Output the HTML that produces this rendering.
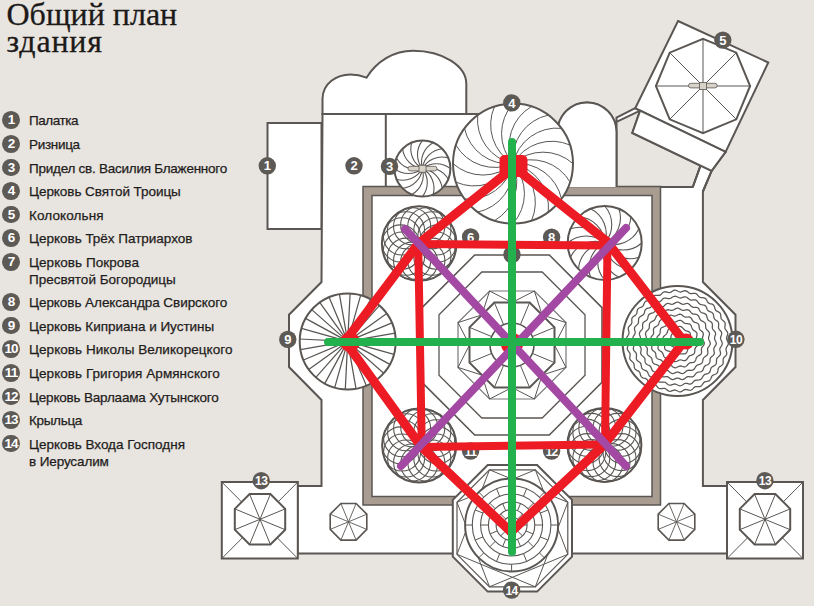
<!DOCTYPE html>
<html><head><meta charset="utf-8"><style>
html,body{margin:0;padding:0;}
body{width:814px;height:606px;overflow:hidden;background:#e8e4df;position:relative;font-family:"Liberation Sans",sans-serif;}
svg{position:absolute;left:0;top:0;}
.title{position:absolute;left:6.5px;top:1px;font-family:"Liberation Serif",serif;font-size:32px;line-height:27px;color:#1c1a19;-webkit-text-stroke:0.3px #1c1a19;}
.b{position:absolute;left:2.2px;width:17.8px;height:17.8px;border-radius:50%;background:#5d5955;color:#fff;font-size:13.5px;font-weight:bold;line-height:18px;text-align:center;letter-spacing:-0.8px;}
.t{position:absolute;left:29px;font-size:13.5px;line-height:17px;color:#1f1d1c;white-space:nowrap;-webkit-text-stroke:0.25px #1f1d1c;letter-spacing:0.2px;}
</style></head><body>
<svg width="814" height="606" viewBox="0 0 814 606" font-family="Liberation Sans, sans-serif">
<rect x="267.5" y="123" width="54" height="106" fill="#fff" stroke="#5a5653" stroke-width="2"/>
<path d="M322.5,114L322.5,99C322.5,83 337,74.4 350.4,74.4C357,74.4 362,75.8 366.5,77.7C377,61 394,50.8 413,50.8C443,50.8 466.3,66 466.3,84L466.3,114Z" fill="#fff" stroke="#5a5653" stroke-width="2"/>
<polygon points="322.5,114 500,114 500,160 557.5,160 557.5,132 557.5,132 557.9,126.9 559.3,121.9 561.5,117.2 564.4,113 568,109.4 572.2,106.5 576.9,104.3 581.9,102.9 587,102.5 592.1,102.9 597.1,104.3 601.8,106.5 606,109.4 609.6,113 612.5,117.2 614.7,121.9 616.1,126.9 616.5,132 616.5,117.7 635.2,108.2 725.6,151.9 711.6,170.9 702.9,191.5 702.9,282 735.5,314.7 735.5,367 702.9,400 702.9,486 727,486 727,553.5 571,553.5 453,553.5 297.5,553.5 297.5,486 321.5,486 321.5,400 289,367 289,314.7 321.5,282" fill="#fff" stroke="#5a5653" stroke-width="2" stroke-linejoin="miter"/>
<path d="M322.5,114L480,114M385.8,114L385.8,187" stroke="#5a5653" stroke-width="2" fill="none"/>
<polygon points="616.5,121.8 640.1,110.6 632.3,133 700.5,165.6 692.8,187 616.5,187" fill="#e8e4df" stroke="#5a5653" stroke-width="2"/>
<polygon points="678,21 768.3,62.5 725.6,151.9 635.2,108.2" fill="#fff" stroke="#5a5653" stroke-width="2"/>
<polygon points="640.1,110.6 725.6,151.9 711.6,170.9 632.3,133" fill="#fff" stroke="#5a5653" stroke-width="2"/>
<path d="M700.5,165.6L692.8,187M711.6,170.9L702.9,191.5" stroke="#5a5653" stroke-width="2" fill="none"/>
<polygon points="750.1,86 736.3,119.3 703,133.1 669.7,119.3 655.9,86 669.7,52.7 703,38.9 736.3,52.7" fill="#fff" stroke="#5a5653" stroke-width="2"/>
<path d="M703,86L750.1,86M703,86L736.3,119.3M703,86L703,133.1M703,86L669.7,119.3M703,86L655.9,86M703,86L669.7,52.7M703,86L703,38.9M703,86L736.3,52.7" stroke="#5a5653" stroke-width="1" fill="none"/>
<rect x="688.5" y="83.3" width="28.7" height="4.6" rx="2.3" fill="#d9d2c8" stroke="#5a5653" stroke-width="0.8"/>
<rect x="699.5" y="82.5" width="7" height="7" fill="#d9d2c8" stroke="#5a5653" stroke-width="0.8"/>
<rect x="363" y="186.5" width="297.5" height="318.5" fill="#a99c90" stroke="#5a5653" stroke-width="1.5"/>
<rect x="372" y="195.5" width="280" height="301" fill="#fff" stroke="#5a5653" stroke-width="1.5"/>
<polygon points="602,382.3 549.3,435 474.7,435 422,382.3 422,307.7 474.7,255 549.3,255 602,307.7" fill="none" stroke="#5a5653" stroke-width="1.6"/>
<polygon points="585,375.2 542.2,418 481.8,418 439,375.2 439,314.8 481.8,272 542.2,272 585,314.8" fill="none" stroke="#5a5653" stroke-width="1.3"/>
<polygon points="566,367.4 534.4,399 489.6,399 458,367.4 458,322.6 489.6,291 534.4,291 566,322.6" fill="none" stroke="#777" stroke-width="1.2"/>
<polygon points="554.5,362.6 529.6,387.5 494.4,387.5 469.5,362.6 469.5,327.4 494.4,302.5 529.6,302.5 554.5,327.4" fill="none" stroke="#5a5653" stroke-width="2"/>
<path d="M554.5,345L566,367.4L542.1,375.1M554.5,362.6L532.3,353.4M542.1,375.1L534.4,399L512,387.5M529.6,387.5L520.4,365.3M512,387.5L489.6,399L481.9,375.1M494.4,387.5L503.6,365.3M481.9,375.1L458,367.4L469.5,345M469.5,362.6L491.7,353.4M469.5,345L458,322.6L481.9,314.9M469.5,327.4L491.7,336.6M481.9,314.9L489.6,291L512,302.5M494.4,302.5L503.6,324.7M512,302.5L534.4,291L542.1,314.9M529.6,302.5L520.4,324.7M542.1,314.9L566,322.6L554.5,345M554.5,327.4L532.3,336.6" fill="none" stroke="#5a5653" stroke-width="1"/>
<circle cx="512" cy="345" r="22" fill="#fff" stroke="#5a5653" stroke-width="1.6"/>
<path d="M557.5,187L557.5,132A29.5,29.5 0 0 1 616.5,132L616.5,187" fill="#fff" stroke="#5a5653" stroke-width="2"/>
<circle cx="422.4" cy="168.6" r="28" fill="#fff" stroke="#5a5653" stroke-width="2"/>
<path d="M422.4,168.6A22.4,22.4 0 0 1 450.4,168.6M422.4,168.6A22.4,22.4 0 0 1 448.3,179.3M422.4,168.6A22.4,22.4 0 0 1 442.2,188.4M422.4,168.6A22.4,22.4 0 0 1 433.1,194.5M422.4,168.6A22.4,22.4 0 0 1 422.4,196.6M422.4,168.6A22.4,22.4 0 0 1 411.7,194.5M422.4,168.6A22.4,22.4 0 0 1 402.6,188.4M422.4,168.6A22.4,22.4 0 0 1 396.5,179.3M422.4,168.6A22.4,22.4 0 0 1 394.4,168.6M422.4,168.6A22.4,22.4 0 0 1 396.5,157.9M422.4,168.6A22.4,22.4 0 0 1 402.6,148.8M422.4,168.6A22.4,22.4 0 0 1 411.7,142.7M422.4,168.6A22.4,22.4 0 0 1 422.4,140.6M422.4,168.6A22.4,22.4 0 0 1 433.1,142.7M422.4,168.6A22.4,22.4 0 0 1 442.2,148.8M422.4,168.6A22.4,22.4 0 0 1 448.3,157.9" fill="none" stroke="#5a5653" stroke-width="1.1"/>
<rect x="408" y="166.3" width="29" height="4.6" rx="2.3" fill="#d9d2c8" stroke="#5a5653" stroke-width="0.8"/>
<rect x="419" y="165.2" width="7" height="7" fill="#d9d2c8" stroke="#5a5653" stroke-width="0.8"/>
<circle cx="513" cy="163.6" r="60" fill="#fff" stroke="#5a5653" stroke-width="2"/>
<path d="M513,163.6A45,45 0 0 1 573,163.6M513,163.6A45,45 0 0 1 570.1,182.1M513,163.6A45,45 0 0 1 561.5,198.9M513,163.6A45,45 0 0 1 548.3,212.1M513,163.6A45,45 0 0 1 531.5,220.7M513,163.6A45,45 0 0 1 513,223.6M513,163.6A45,45 0 0 1 494.5,220.7M513,163.6A45,45 0 0 1 477.7,212.1M513,163.6A45,45 0 0 1 464.5,198.9M513,163.6A45,45 0 0 1 455.9,182.1M513,163.6A45,45 0 0 1 453,163.6M513,163.6A45,45 0 0 1 455.9,145.1M513,163.6A45,45 0 0 1 464.5,128.3M513,163.6A45,45 0 0 1 477.7,115.1M513,163.6A45,45 0 0 1 494.5,106.5M513,163.6A45,45 0 0 1 513,103.6M513,163.6A45,45 0 0 1 531.5,106.5M513,163.6A45,45 0 0 1 548.3,115.1M513,163.6A45,45 0 0 1 561.5,128.3M513,163.6A45,45 0 0 1 570.1,145.1" fill="none" stroke="#5a5653" stroke-width="1.0"/>
<circle cx="419.2" cy="243.5" r="37.3" fill="#fff" stroke="#5a5653" stroke-width="2"/>
<g fill="none" stroke="#5a5653" stroke-width="1.1"><circle cx="437.8" cy="243.5" r="18.6"/><circle cx="436.4" cy="250.6" r="18.6"/><circle cx="432.4" cy="256.7" r="18.6"/><circle cx="426.3" cy="260.7" r="18.6"/><circle cx="419.2" cy="262.1" r="18.6"/><circle cx="412.1" cy="260.7" r="18.6"/><circle cx="406" cy="256.7" r="18.6"/><circle cx="402" cy="250.6" r="18.6"/><circle cx="400.6" cy="243.5" r="18.6"/><circle cx="402" cy="236.4" r="18.6"/><circle cx="406" cy="230.3" r="18.6"/><circle cx="412.1" cy="226.3" r="18.6"/><circle cx="419.2" cy="224.8" r="18.6"/><circle cx="426.3" cy="226.3" r="18.6"/><circle cx="432.4" cy="230.3" r="18.6"/><circle cx="436.4" cy="236.4" r="18.6"/></g>
<circle cx="604.7" cy="243" r="37" fill="#fff" stroke="#5a5653" stroke-width="2"/>
<path d="M604.7,243A27.8,27.8 0 0 0 641.7,243M604.7,243A27.8,27.8 0 0 0 638.9,257.2M604.7,243A27.8,27.8 0 0 0 630.9,269.2M604.7,243A27.8,27.8 0 0 0 618.9,277.2M604.7,243A27.8,27.8 0 0 0 604.7,280M604.7,243A27.8,27.8 0 0 0 590.5,277.2M604.7,243A27.8,27.8 0 0 0 578.5,269.2M604.7,243A27.8,27.8 0 0 0 570.5,257.2M604.7,243A27.8,27.8 0 0 0 567.7,243M604.7,243A27.8,27.8 0 0 0 570.5,228.8M604.7,243A27.8,27.8 0 0 0 578.5,216.8M604.7,243A27.8,27.8 0 0 0 590.5,208.8M604.7,243A27.8,27.8 0 0 0 604.7,206M604.7,243A27.8,27.8 0 0 0 618.9,208.8M604.7,243A27.8,27.8 0 0 0 630.9,216.8M604.7,243A27.8,27.8 0 0 0 638.9,228.8" fill="none" stroke="#5a5653" stroke-width="1.1"/>
<circle cx="419.2" cy="445.4" r="37" fill="#fff" stroke="#5a5653" stroke-width="2"/>
<g fill="none" stroke="#5a5653" stroke-width="1.1"><circle cx="437.7" cy="445.4" r="18.5"/><circle cx="436.3" cy="452.5" r="18.5"/><circle cx="432.3" cy="458.5" r="18.5"/><circle cx="426.3" cy="462.5" r="18.5"/><circle cx="419.2" cy="463.9" r="18.5"/><circle cx="412.1" cy="462.5" r="18.5"/><circle cx="406.1" cy="458.5" r="18.5"/><circle cx="402.1" cy="452.5" r="18.5"/><circle cx="400.7" cy="445.4" r="18.5"/><circle cx="402.1" cy="438.3" r="18.5"/><circle cx="406.1" cy="432.3" r="18.5"/><circle cx="412.1" cy="428.3" r="18.5"/><circle cx="419.2" cy="426.9" r="18.5"/><circle cx="426.3" cy="428.3" r="18.5"/><circle cx="432.3" cy="432.3" r="18.5"/><circle cx="436.3" cy="438.3" r="18.5"/></g>
<circle cx="604.4" cy="445" r="37" fill="#fff" stroke="#5a5653" stroke-width="2"/>
<g fill="none" stroke="#5a5653" stroke-width="1.1"><circle cx="622.9" cy="445" r="18.5"/><circle cx="621.5" cy="452.1" r="18.5"/><circle cx="617.5" cy="458.1" r="18.5"/><circle cx="611.5" cy="462.1" r="18.5"/><circle cx="604.4" cy="463.5" r="18.5"/><circle cx="597.3" cy="462.1" r="18.5"/><circle cx="591.3" cy="458.1" r="18.5"/><circle cx="587.3" cy="452.1" r="18.5"/><circle cx="585.9" cy="445" r="18.5"/><circle cx="587.3" cy="437.9" r="18.5"/><circle cx="591.3" cy="431.9" r="18.5"/><circle cx="597.3" cy="427.9" r="18.5"/><circle cx="604.4" cy="426.5" r="18.5"/><circle cx="611.5" cy="427.9" r="18.5"/><circle cx="617.5" cy="431.9" r="18.5"/><circle cx="621.5" cy="437.9" r="18.5"/></g>
<circle cx="347.7" cy="341.4" r="48" fill="#fff" stroke="#5a5653" stroke-width="2"/>
<path d="M347.7,341.4L395.6,343.8M347.7,341.4L393.9,354.4M347.7,341.4L389.9,364.4M347.7,341.4L383.7,373.2M347.7,341.4L375.7,380.4M347.7,341.4L366.3,385.6M347.7,341.4L356,388.7M347.7,341.4L345.3,389.3M347.7,341.4L334.7,387.6M347.7,341.4L324.7,383.6M347.7,341.4L315.9,377.4M347.7,341.4L308.7,369.4M347.7,341.4L303.5,360M347.7,341.4L300.4,349.7M347.7,341.4L299.8,339M347.7,341.4L301.5,328.4M347.7,341.4L305.5,318.4M347.7,341.4L311.7,309.6M347.7,341.4L319.7,302.4M347.7,341.4L329.1,297.2M347.7,341.4L339.4,294.1M347.7,341.4L350.1,293.5M347.7,341.4L360.7,295.2M347.7,341.4L370.7,299.2M347.7,341.4L379.5,305.4M347.7,341.4L386.7,313.4M347.7,341.4L391.9,322.8M347.7,341.4L395,333.1" stroke="#5a5653" stroke-width="1.25" fill="none"/>
<circle cx="677.5" cy="341" r="55" fill="#fff" stroke="#5a5653" stroke-width="2"/>
<path d="M685.5,341L686,342.1L686.1,343.2L685.7,344.3L685,345.1L684,345.7L682.9,346.1L682.1,346.5L681.3,347L680.7,347.8L680,348.6L679.1,349.4L678.1,349.8L676.9,349.8L675.9,349.4L675,348.6L674.3,347.8L673.7,347L672.9,346.5L672.1,346.1L671,345.7L670,345.1L669.3,344.3L668.9,343.2L669,342.1L669.5,341L670.1,340.1L670.6,339.2L670.9,338.4L671,337.4L671,336.3L671.3,335.2L671.9,334.2L672.8,333.5L673.9,333.3L675,333.4L676.1,333.7L677.1,333.9L677.9,333.9L678.9,333.7L680,333.4L681.1,333.3L682.2,333.5L683.1,334.2L683.7,335.2L684,336.3L684,337.4L684.1,338.4L684.4,339.2L684.9,340.1L685.5,341ZM691.5,341L692,342.1L692.2,343.3L691.9,344.5L691.3,345.5L690.4,346.4L689.5,347.1L688.7,347.9L688.1,348.7L687.7,349.7L687.4,350.9L686.9,352L686.2,353L685.3,353.7L684.1,353.9L682.9,353.9L681.7,353.8L680.6,353.8L679.6,354L678.6,354.4L677.5,355L676.4,355.5L675.2,355.7L674,355.4L673,354.8L672.1,353.9L671.4,353L670.6,352.2L669.8,351.6L668.8,351.2L667.6,350.9L666.5,350.4L665.5,349.7L664.8,348.8L664.6,347.6L664.6,346.4L664.7,345.2L664.7,344.1L664.5,343.1L664.1,342.1L663.5,341L663,339.9L662.8,338.7L663.1,337.5L663.7,336.5L664.6,335.6L665.5,334.9L666.3,334.1L666.9,333.3L667.3,332.3L667.6,331.1L668.1,330L668.8,329L669.7,328.3L670.9,328.1L672.1,328.1L673.3,328.2L674.4,328.2L675.4,328L676.4,327.6L677.5,327L678.6,326.5L679.8,326.3L681,326.6L682,327.2L682.9,328.1L683.6,329L684.4,329.8L685.2,330.4L686.2,330.8L687.4,331.1L688.5,331.6L689.5,332.3L690.2,333.2L690.4,334.4L690.4,335.6L690.3,336.8L690.3,337.9L690.5,338.9L690.9,339.9L691.5,341ZM697.5,341L698,342.1L698.2,343.2L698.1,344.3L697.6,345.3L696.8,346.2L696,347L695.4,347.9L695,348.8L694.8,349.8L694.8,351L694.7,352.2L694.4,353.3L693.7,354.1L692.8,354.7L691.6,355.1L690.5,355.5L689.5,355.9L688.8,356.5L688.1,357.3L687.5,358.3L686.8,359.3L686,360.1L685,360.5L683.8,360.5L682.7,360.3L681.5,360L680.5,359.9L679.5,360L678.5,360.4L677.5,361L676.4,361.5L675.3,361.7L674.2,361.6L673.2,361.1L672.3,360.3L671.5,359.5L670.6,358.9L669.7,358.5L668.7,358.3L667.5,358.3L666.3,358.2L665.2,357.9L664.4,357.2L663.8,356.3L663.4,355.1L663,354L662.6,353L662,352.3L661.2,351.6L660.2,351L659.2,350.3L658.4,349.5L658,348.5L658,347.3L658.2,346.2L658.5,345L658.6,344L658.5,343L658.1,342L657.5,341L657,339.9L656.8,338.8L656.9,337.7L657.4,336.7L658.2,335.8L659,335L659.6,334.1L660,333.2L660.2,332.2L660.2,331L660.3,329.8L660.6,328.7L661.3,327.9L662.2,327.3L663.4,326.9L664.5,326.5L665.5,326.1L666.2,325.5L666.9,324.7L667.5,323.7L668.2,322.7L669,321.9L670,321.5L671.2,321.5L672.3,321.7L673.5,322L674.5,322.1L675.5,322L676.5,321.6L677.5,321L678.6,320.5L679.7,320.3L680.8,320.4L681.8,320.9L682.7,321.7L683.5,322.5L684.4,323.1L685.3,323.5L686.3,323.7L687.5,323.7L688.7,323.8L689.8,324.1L690.6,324.8L691.2,325.7L691.6,326.9L692,328L692.4,329L693,329.7L693.8,330.4L694.8,331L695.8,331.7L696.6,332.5L697,333.5L697,334.7L696.8,335.8L696.5,337L696.4,338L696.5,339L696.9,340L697.5,341ZM703.5,341L704,342L704.3,343.1L704.2,344.2L703.7,345.2L703,346.1L702.3,346.9L701.7,347.8L701.4,348.8L701.4,349.8L701.5,350.9L701.6,352.1L701.4,353.2L700.9,354.1L700.1,354.9L699.1,355.4L698.1,356L697.2,356.6L696.6,357.3L696.2,358.3L695.9,359.4L695.5,360.5L694.9,361.4L694.1,362.1L693.1,362.5L691.9,362.6L690.8,362.7L689.8,362.9L688.9,363.4L688.2,364.1L687.4,365L686.7,365.9L685.8,366.5L684.8,366.8L683.7,366.8L682.6,366.5L681.5,366.2L680.5,366L679.5,366.1L678.5,366.5L677.5,367L676.5,367.5L675.4,367.8L674.3,367.7L673.3,367.2L672.4,366.5L671.6,365.8L670.7,365.2L669.7,364.9L668.7,364.9L667.6,365L666.4,365.1L665.3,364.9L664.4,364.4L663.6,363.6L663.1,362.6L662.5,361.6L661.9,360.7L661.2,360.1L660.2,359.7L659.1,359.4L658,359L657.1,358.4L656.4,357.6L656,356.6L655.9,355.4L655.8,354.3L655.6,353.3L655.1,352.4L654.4,351.7L653.5,350.9L652.6,350.2L652,349.3L651.7,348.3L651.7,347.2L652,346.1L652.3,345L652.5,344L652.4,343L652,342L651.5,341L651,340L650.7,338.9L650.8,337.8L651.3,336.8L652,335.9L652.7,335.1L653.3,334.2L653.6,333.2L653.6,332.2L653.5,331.1L653.4,329.9L653.6,328.8L654.1,327.9L654.9,327.1L655.9,326.6L656.9,326L657.8,325.4L658.4,324.7L658.8,323.7L659.1,322.6L659.5,321.5L660.1,320.6L660.9,319.9L661.9,319.5L663.1,319.4L664.2,319.3L665.2,319.1L666.1,318.6L666.8,317.9L667.6,317L668.3,316.1L669.2,315.5L670.2,315.2L671.3,315.2L672.4,315.5L673.5,315.8L674.5,316L675.5,315.9L676.5,315.5L677.5,315L678.5,314.5L679.6,314.2L680.7,314.3L681.7,314.8L682.6,315.5L683.4,316.2L684.3,316.8L685.3,317.1L686.3,317.1L687.4,317L688.6,316.9L689.7,317.1L690.6,317.6L691.4,318.4L691.9,319.4L692.5,320.4L693.1,321.3L693.8,321.9L694.8,322.3L695.9,322.6L697,323L697.9,323.6L698.6,324.4L699,325.4L699.1,326.6L699.2,327.7L699.4,328.7L699.9,329.6L700.6,330.3L701.5,331.1L702.4,331.8L703,332.7L703.3,333.7L703.3,334.8L703,335.9L702.7,337L702.5,338L702.6,339L703,340L703.5,341ZM709.5,341L710,342.1L710.3,343.2L710.2,344.3L709.7,345.3L709.1,346.3L708.4,347.2L707.8,348.1L707.6,349.1L707.6,350.2L707.8,351.4L707.9,352.6L707.8,353.7L707.4,354.7L706.6,355.5L705.6,356.2L704.7,356.9L703.9,357.6L703.3,358.5L703,359.5L702.8,360.7L702.5,361.8L702,362.9L701.3,363.6L700.3,364.2L699.2,364.5L698,364.8L697,365.3L696.2,365.9L695.6,366.8L695,367.8L694.4,368.8L693.6,369.6L692.7,370.2L691.5,370.3L690.4,370.3L689.2,370.2L688.1,370.3L687.1,370.6L686.2,371.2L685.4,372L684.4,372.8L683.4,373.3L682.4,373.5L681.3,373.3L680.1,372.9L679.1,372.4L678,372.1L677,372.1L675.9,372.4L674.9,372.9L673.7,373.3L672.6,373.5L671.6,373.3L670.6,372.8L669.6,372L668.8,371.2L667.9,370.6L666.9,370.3L665.8,370.2L664.6,370.3L663.5,370.3L662.3,370.2L661.4,369.6L660.6,368.8L660,367.8L659.4,366.8L658.8,365.9L658,365.3L657,364.8L655.8,364.5L654.7,364.2L653.7,363.6L653,362.9L652.5,361.8L652.2,360.7L652,359.5L651.7,358.5L651.1,357.6L650.3,356.9L649.4,356.2L648.4,355.5L647.6,354.7L647.2,353.7L647.1,352.6L647.2,351.4L647.4,350.2L647.4,349.1L647.2,348.1L646.6,347.2L645.9,346.3L645.3,345.3L644.8,344.3L644.7,343.2L645,342.1L645.5,341L646,340L646.4,338.9L646.5,337.9L646.3,336.8L645.9,335.7L645.6,334.6L645.5,333.5L645.8,332.4L646.4,331.5L647.2,330.6L648.1,329.8L648.8,329L649.2,328L649.3,326.9L649.4,325.8L649.4,324.6L649.7,323.5L650.3,322.6L651.2,321.9L652.2,321.3L653.3,320.9L654.2,320.3L654.9,319.5L655.4,318.6L655.8,317.5L656.3,316.4L656.9,315.4L657.8,314.7L658.8,314.4L660,314.2L661.2,314.1L662.2,313.9L663.1,313.4L663.9,312.6L664.6,311.7L665.4,310.8L666.3,310.1L667.3,309.8L668.5,309.7L669.6,310L670.8,310.3L671.9,310.4L672.9,310.2L673.9,309.7L674.9,309.1L675.9,308.5L677,308.1L678,308.1L679.1,308.5L680.1,309.1L681.1,309.7L682.1,310.2L683.1,310.4L684.2,310.3L685.4,310L686.5,309.7L687.7,309.8L688.7,310.1L689.6,310.8L690.4,311.7L691.1,312.6L691.9,313.4L692.8,313.9L693.8,314.1L695,314.2L696.2,314.4L697.2,314.7L698.1,315.4L698.7,316.4L699.2,317.5L699.6,318.6L700.1,319.5L700.8,320.3L701.7,320.9L702.8,321.3L703.8,321.9L704.7,322.6L705.3,323.5L705.6,324.6L705.6,325.8L705.7,326.9L705.8,328L706.2,329L706.9,329.8L707.8,330.6L708.6,331.5L709.2,332.4L709.5,333.5L709.4,334.6L709.1,335.7L708.7,336.8L708.5,337.9L708.6,338.9L709,340L709.5,341ZM715.5,341L716,342.1L716.3,343.1L716.2,344.2L715.8,345.2L715.1,346.2L714.5,347.1L714,348.1L713.8,349.1L713.8,350.1L714.1,351.3L714.3,352.4L714.3,353.5L713.9,354.5L713.2,355.4L712.4,356.1L711.4,356.9L710.7,357.6L710.2,358.5L710,359.6L710,360.7L709.9,361.9L709.5,363L708.9,363.8L708,364.5L707,365L705.9,365.4L705,366L704.3,366.7L703.8,367.7L703.4,368.8L703,369.9L702.4,370.8L701.6,371.5L700.6,371.9L699.4,372L698.3,372.2L697.2,372.5L696.4,373L695.6,373.8L695,374.7L694.3,375.7L693.5,376.4L692.5,376.8L691.4,376.9L690.2,376.8L689.1,376.6L688,376.6L687,376.9L686.1,377.5L685.2,378.2L684.3,378.9L683.3,379.4L682.3,379.6L681.2,379.4L680.1,378.9L679,378.4L678,378.1L677,378.1L676,378.4L674.9,378.9L673.8,379.4L672.7,379.6L671.7,379.4L670.7,378.9L669.8,378.2L668.9,377.5L668,376.9L667,376.6L665.9,376.6L664.8,376.8L663.6,376.9L662.5,376.8L661.5,376.4L660.7,375.7L660,374.7L659.4,373.8L658.6,373L657.8,372.5L656.7,372.2L655.6,372L654.4,371.9L653.4,371.5L652.6,370.8L652,369.9L651.6,368.8L651.2,367.7L650.7,366.7L650,366L649.1,365.4L648,365L647,364.5L646.1,363.8L645.5,363L645.1,361.9L645,360.7L645,359.6L644.8,358.5L644.3,357.6L643.6,356.9L642.6,356.1L641.8,355.4L641.1,354.5L640.7,353.5L640.7,352.4L640.9,351.3L641.2,350.1L641.2,349.1L641,348.1L640.5,347.1L639.9,346.2L639.2,345.2L638.8,344.2L638.7,343.1L639,342.1L639.5,341L640,340L640.4,339L640.5,338L640.3,336.9L639.9,335.8L639.5,334.7L639.4,333.6L639.6,332.6L640.1,331.6L640.9,330.7L641.7,329.9L642.3,329L642.7,328.1L642.7,327L642.6,325.9L642.6,324.7L642.8,323.6L643.2,322.7L644,321.9L645,321.3L646,320.7L646.9,320L647.4,319.2L647.8,318.2L648,317L648.3,315.9L648.7,314.9L649.5,314.1L650.4,313.6L651.6,313.2L652.7,312.9L653.7,312.5L654.5,311.9L655.1,311L655.6,310L656.1,308.9L656.9,308.1L657.8,307.5L658.8,307.3L660,307.3L661.2,307.3L662.2,307.1L663.2,306.7L664,306L664.8,305.2L665.6,304.4L666.5,303.7L667.5,303.4L668.6,303.5L669.8,303.8L670.9,304.1L671.9,304.3L672.9,304.1L673.9,303.7L674.9,303.1L675.9,302.5L677,302.1L678,302.1L679.1,302.5L680.1,303.1L681.1,303.7L682.1,304.1L683.1,304.3L684.1,304.1L685.2,303.8L686.4,303.5L687.5,303.4L688.5,303.7L689.4,304.4L690.2,305.2L691,306L691.8,306.7L692.8,307.1L693.8,307.3L695,307.3L696.2,307.3L697.2,307.5L698.1,308.1L698.9,308.9L699.4,310L699.9,311L700.5,311.9L701.3,312.5L702.3,312.9L703.4,313.2L704.6,313.6L705.5,314.1L706.3,314.9L706.7,315.9L707,317L707.2,318.2L707.6,319.2L708.1,320L709,320.7L710,321.3L711,321.9L711.8,322.7L712.2,323.6L712.4,324.7L712.4,325.9L712.3,327L712.3,328.1L712.7,329L713.3,329.9L714.1,330.7L714.9,331.6L715.4,332.6L715.6,333.6L715.5,334.7L715.1,335.8L714.7,336.9L714.5,338L714.6,339L715,340L715.5,341ZM721.5,341L722,342.1L722.3,343.2L722.2,344.2L721.8,345.3L721.2,346.3L720.5,347.3L720,348.3L719.8,349.3L719.9,350.4L720.2,351.5L720.5,352.7L720.5,353.8L720.2,354.9L719.5,355.8L718.6,356.6L717.8,357.4L717.1,358.2L716.6,359.2L716.5,360.3L716.5,361.4L716.4,362.6L716.2,363.7L715.6,364.7L714.7,365.4L713.7,366L712.7,366.6L711.8,367.2L711.1,368L710.7,369L710.4,370.2L710.1,371.3L709.6,372.3L708.8,373.1L707.8,373.6L706.7,373.9L705.5,374.2L704.5,374.6L703.7,375.3L703.1,376.2L702.5,377.2L701.9,378.2L701.2,379.1L700.2,379.7L699.1,379.9L697.9,380L696.8,380L695.7,380.1L694.7,380.6L693.9,381.3L693.1,382.1L692.3,383L691.4,383.7L690.3,384L689.2,384L688,383.7L686.9,383.4L685.8,383.3L684.8,383.5L683.8,384L682.8,384.7L681.8,385.3L680.7,385.7L679.7,385.8L678.6,385.5L677.5,385L676.4,384.5L675.4,384.1L674.4,384L673.3,384.3L672.2,384.7L671.1,385.1L669.9,385.2L668.9,385L667.9,384.5L667,383.7L666.1,382.9L665.2,382.3L664.2,382L663.1,382L661.9,382.1L660.7,382.2L659.6,382.1L658.6,381.7L657.8,380.9L657.1,380L656.4,379L655.6,378.2L654.7,377.6L653.7,377.4L652.5,377.2L651.3,377L650.3,376.6L649.4,376L648.8,375L648.3,373.9L647.9,372.8L647.4,371.9L646.6,371.1L645.7,370.6L644.6,370.2L643.5,369.7L642.5,369.1L641.9,368.2L641.5,367.2L641.3,366L641.1,364.8L640.9,363.8L640.3,362.9L639.5,362.1L638.5,361.4L637.6,360.7L636.8,359.9L636.4,358.9L636.3,357.8L636.4,356.6L636.5,355.4L636.5,354.3L636.2,353.3L635.6,352.4L634.8,351.5L634,350.6L633.5,349.6L633.3,348.6L633.4,347.4L633.8,346.3L634.2,345.2L634.5,344.1L634.4,343.1L634,342.1L633.5,341L633,339.9L632.7,338.8L632.8,337.8L633.2,336.7L633.8,335.7L634.5,334.7L635,333.7L635.2,332.7L635.1,331.6L634.8,330.5L634.5,329.3L634.5,328.2L634.8,327.1L635.5,326.2L636.4,325.4L637.2,324.6L637.9,323.8L638.4,322.8L638.5,321.7L638.5,320.6L638.6,319.4L638.8,318.3L639.4,317.3L640.3,316.6L641.3,316L642.3,315.4L643.2,314.8L643.9,314L644.3,313L644.6,311.8L644.9,310.7L645.4,309.7L646.2,308.9L647.2,308.4L648.3,308.1L649.5,307.8L650.5,307.4L651.3,306.7L651.9,305.8L652.5,304.8L653.1,303.8L653.8,302.9L654.8,302.3L655.9,302.1L657.1,302L658.2,302L659.3,301.9L660.3,301.4L661.1,300.7L661.9,299.9L662.7,299L663.6,298.3L664.7,298L665.8,298L667,298.3L668.1,298.6L669.2,298.7L670.2,298.5L671.2,298L672.2,297.3L673.2,296.7L674.3,296.3L675.3,296.2L676.4,296.5L677.5,297L678.6,297.5L679.6,297.9L680.6,298L681.7,297.7L682.8,297.3L683.9,296.9L685.1,296.8L686.1,297L687.1,297.5L688,298.3L688.9,299.1L689.8,299.7L690.8,300L691.9,300L693.1,299.9L694.3,299.8L695.4,299.9L696.4,300.3L697.2,301.1L697.9,302L698.6,303L699.4,303.8L700.3,304.4L701.3,304.6L702.5,304.8L703.7,305L704.7,305.4L705.6,306L706.2,307L706.7,308.1L707.1,309.2L707.6,310.1L708.4,310.9L709.3,311.4L710.4,311.8L711.5,312.3L712.5,312.9L713.1,313.8L713.5,314.8L713.7,316L713.9,317.2L714.1,318.2L714.7,319.1L715.5,319.9L716.5,320.6L717.4,321.3L718.2,322.1L718.6,323.1L718.7,324.2L718.6,325.4L718.5,326.6L718.5,327.7L718.8,328.7L719.4,329.6L720.2,330.5L721,331.4L721.5,332.4L721.7,333.4L721.6,334.6L721.2,335.7L720.8,336.8L720.5,337.9L720.6,338.9L721,339.9L721.5,341ZM727.5,341L728,342.1L728.3,343.1L728.3,344.2L727.9,345.2L727.2,346.2L726.6,347.2L726.1,348.2L726,349.2L726.1,350.3L726.4,351.4L726.7,352.5L726.8,353.6L726.5,354.7L725.9,355.6L725.1,356.5L724.2,357.3L723.6,358.1L723.2,359.1L723.1,360.2L723.2,361.3L723.2,362.5L723.1,363.6L722.6,364.6L721.8,365.3L720.8,366L719.8,366.6L719,367.3L718.4,368.2L718.1,369.2L718,370.4L717.7,371.5L717.4,372.6L716.7,373.4L715.8,374L714.7,374.5L713.6,374.9L712.6,375.4L711.9,376.1L711.4,377.1L711,378.2L710.5,379.3L709.9,380.2L709.1,380.9L708,381.2L706.9,381.5L705.7,381.6L704.7,381.9L703.8,382.5L703.1,383.3L702.5,384.3L701.8,385.3L701.1,386.1L700.1,386.6L699,386.7L697.8,386.7L696.7,386.6L695.6,386.7L694.6,387.1L693.8,387.7L693,388.6L692.1,389.4L691.2,390L690.1,390.3L689,390.2L687.9,389.9L686.8,389.6L685.7,389.5L684.7,389.6L683.7,390.1L682.7,390.7L681.7,391.4L680.7,391.8L679.6,391.8L678.6,391.5L677.5,391L676.5,390.5L675.4,390.1L674.4,390L673.4,390.3L672.3,390.7L671.2,391.1L670.1,391.3L669,391.1L668,390.6L667.1,389.9L666.2,389.2L665.3,388.6L664.3,388.3L663.2,388.4L662,388.6L660.9,388.7L659.8,388.7L658.8,388.3L657.9,387.6L657.2,386.7L656.4,385.8L655.6,385L654.7,384.6L653.7,384.4L652.5,384.3L651.3,384.2L650.3,383.9L649.4,383.4L648.7,382.5L648.1,381.5L647.6,380.4L647,379.5L646.2,378.9L645.2,378.4L644,378.2L642.9,377.8L641.9,377.3L641.2,376.6L640.7,375.6L640.3,374.5L640.1,373.3L639.6,372.3L639,371.5L638.1,370.9L637,370.4L636,369.8L635.1,369.1L634.6,368.2L634.3,367.2L634.2,366L634.1,364.8L633.9,363.8L633.5,362.9L632.7,362.1L631.8,361.3L630.9,360.6L630.2,359.7L629.8,358.7L629.8,357.6L629.9,356.5L630.1,355.3L630.2,354.2L629.9,353.2L629.3,352.3L628.6,351.4L627.9,350.5L627.4,349.5L627.2,348.4L627.4,347.3L627.8,346.2L628.2,345.1L628.5,344.1L628.4,343.1L628,342L627.5,341L627,339.9L626.7,338.9L626.7,337.8L627.1,336.8L627.8,335.8L628.4,334.8L628.9,333.8L629,332.8L628.9,331.7L628.6,330.6L628.3,329.5L628.2,328.4L628.5,327.3L629.1,326.4L629.9,325.5L630.8,324.7L631.4,323.9L631.8,322.9L631.9,321.8L631.8,320.7L631.8,319.5L631.9,318.4L632.4,317.4L633.2,316.7L634.2,316L635.2,315.4L636,314.7L636.6,313.8L636.9,312.8L637,311.6L637.3,310.5L637.6,309.4L638.3,308.6L639.2,308L640.3,307.5L641.4,307.1L642.4,306.6L643.1,305.9L643.6,304.9L644,303.8L644.5,302.7L645.1,301.8L645.9,301.1L647,300.8L648.1,300.5L649.3,300.4L650.3,300.1L651.2,299.5L651.9,298.7L652.5,297.7L653.2,296.7L653.9,295.9L654.9,295.4L656,295.3L657.2,295.3L658.3,295.4L659.4,295.3L660.4,294.9L661.2,294.3L662,293.4L662.9,292.6L663.8,292L664.9,291.7L666,291.8L667.1,292.1L668.2,292.4L669.3,292.5L670.3,292.4L671.3,291.9L672.3,291.3L673.3,290.6L674.3,290.2L675.4,290.2L676.4,290.5L677.5,291L678.5,291.5L679.6,291.9L680.6,292L681.6,291.7L682.7,291.3L683.8,290.9L684.9,290.7L686,290.9L687,291.4L687.9,292.1L688.8,292.8L689.7,293.4L690.7,293.7L691.8,293.6L693,293.4L694.1,293.3L695.2,293.3L696.2,293.7L697.1,294.4L697.8,295.3L698.6,296.2L699.4,297L700.3,297.4L701.3,297.6L702.5,297.7L703.7,297.8L704.7,298.1L705.6,298.6L706.3,299.5L706.9,300.5L707.4,301.6L708,302.5L708.8,303.1L709.8,303.6L711,303.8L712.1,304.2L713.1,304.7L713.8,305.4L714.3,306.4L714.7,307.5L714.9,308.7L715.4,309.7L716,310.5L716.9,311.1L718,311.6L719,312.2L719.9,312.9L720.4,313.8L720.7,314.8L720.8,316L720.9,317.2L721.1,318.2L721.5,319.1L722.3,319.9L723.2,320.7L724.1,321.4L724.8,322.3L725.2,323.3L725.2,324.4L725.1,325.5L724.9,326.7L724.8,327.8L725.1,328.8L725.7,329.7L726.4,330.6L727.1,331.5L727.6,332.5L727.8,333.6L727.6,334.7L727.2,335.8L726.8,336.9L726.5,337.9L726.6,338.9L727,340L727.5,341Z" fill="none" stroke="#5a5653" stroke-width="1.25"/>
<polygon points="537.1,465 572,499.9 572,556.7 537.1,591.6 487.7,591.6 452.8,556.7 452.8,499.9 487.7,465" fill="#fff" stroke="#5a5653" stroke-width="2"/>
<polygon points="535.3,469.8 567.8,502.3 567.8,554.3 535.3,586.8 489.5,586.8 457,554.3 457,502.3 489.5,469.8" fill="none" stroke="#5a5653" stroke-width="1.2"/>
<path d="M535.3,469.8L567.8,554.3M567.8,502.3L535.3,586.8M567.8,554.3L489.5,586.8M535.3,586.8L457,554.3M489.5,586.8L457,502.3M457,554.3L489.5,469.8M457,502.3L535.3,469.8M489.5,469.8L567.8,502.3" fill="none" stroke="#5a5653" stroke-width="1"/>
<circle cx="511.6" cy="525" r="46.5" fill="#fff" stroke="#5a5653" stroke-width="2"/>
<g fill="none" stroke="#5a5653" stroke-width="1.1"><circle cx="511.6" cy="525" r="8.3"/><circle cx="511.6" cy="525" r="15.5"/><circle cx="511.6" cy="525" r="23.2"/><circle cx="511.6" cy="525" r="31"/><circle cx="511.6" cy="525" r="39.3"/></g>
<path d="M519.9,525L527.1,525M517.5,530.9L522.6,536M511.6,533.3L511.6,540.5M505.7,530.9L500.6,536M503.3,525L496.1,525M505.7,519.1L500.6,514M511.6,516.7L511.6,509.5M517.5,519.1L522.6,514M525.9,530.9L533,533.9M517.5,539.3L520.5,546.4M505.7,539.3L502.7,546.4M497.3,530.9L490.2,533.9M497.3,519.1L490.2,516.1M505.7,510.7L502.7,503.6M517.5,510.7L520.5,503.6M525.9,519.1L533,516.1M534.8,525L542.6,525M528,541.4L533.5,546.9M511.6,548.2L511.6,556M495.2,541.4L489.7,546.9M488.4,525L480.6,525M495.2,508.6L489.7,503.1M511.6,501.8L511.6,494M528,508.6L533.5,503.1M540.2,536.9L547.9,540M523.5,553.6L526.6,561.3M499.7,553.6L496.6,561.3M483,536.9L475.3,540M483,513.1L475.3,510M499.7,496.4L496.6,488.7M523.5,496.4L526.6,488.7M540.2,513.1L547.9,510M550.9,525L558.1,525M539.4,552.8L544.5,557.9M511.6,564.3L511.6,571.5M483.8,552.8L478.7,557.9M472.3,525L465.1,525M483.8,497.2L478.7,492.1M511.6,485.7L511.6,478.5M539.4,497.2L544.5,492.1" fill="none" stroke="#5a5653" stroke-width="1"/>
<rect x="221.8" y="482" width="76" height="76.5" fill="#fff" stroke="#5a5653" stroke-width="2"/>
<path d="M221.8,482L297.8,558.5M297.8,482L221.8,558.5" stroke="#5a5653" stroke-width="1" fill="none"/>
<polygon points="285.2,529.7 270.4,544.5 249.6,544.5 234.8,529.7 234.8,508.9 249.6,494.1 270.4,494.1 285.2,508.9" fill="#fff" stroke="#5a5653" stroke-width="2"/>
<path d="M260,519.3L285.2,529.7M260,519.3L270.4,544.5M260,519.3L249.6,544.5M260,519.3L234.8,529.7M260,519.3L234.8,508.9M260,519.3L249.6,494.1M260,519.3L270.4,494.1M260,519.3L285.2,508.9" stroke="#5a5653" stroke-width="1" fill="none"/>
<rect x="727" y="482" width="76" height="76.5" fill="#fff" stroke="#5a5653" stroke-width="2"/>
<path d="M727,482L803,558.5M803,482L727,558.5" stroke="#5a5653" stroke-width="1" fill="none"/>
<polygon points="790.2,529.7 775.4,544.5 754.6,544.5 739.8,529.7 739.8,508.9 754.6,494.1 775.4,494.1 790.2,508.9" fill="#fff" stroke="#5a5653" stroke-width="2"/>
<path d="M765,519.3L790.2,529.7M765,519.3L775.4,544.5M765,519.3L754.6,544.5M765,519.3L739.8,529.7M765,519.3L739.8,508.9M765,519.3L754.6,494.1M765,519.3L775.4,494.1M765,519.3L790.2,508.9" stroke="#5a5653" stroke-width="1" fill="none"/>
<polygon points="366.8,529.4 356.1,540.1 340.9,540.1 330.2,529.4 330.2,514.2 340.9,503.5 356.1,503.5 366.8,514.2" fill="#fff" stroke="#5a5653" stroke-width="1.6"/>
<path d="M348.5,521.8L366.8,529.4M348.5,521.8L356.1,540.1M348.5,521.8L340.9,540.1M348.5,521.8L330.2,529.4M348.5,521.8L330.2,514.2M348.5,521.8L340.9,503.5M348.5,521.8L356.1,503.5M348.5,521.8L366.8,514.2" stroke="#5a5653" stroke-width="0.9" fill="none"/>
<polygon points="694.8,529.4 684.1,540.1 668.9,540.1 658.2,529.4 658.2,514.2 668.9,503.5 684.1,503.5 694.8,514.2" fill="#fff" stroke="#5a5653" stroke-width="1.6"/>
<path d="M676.5,521.8L694.8,529.4M676.5,521.8L684.1,540.1M676.5,521.8L668.9,540.1M676.5,521.8L658.2,529.4M676.5,521.8L658.2,514.2M676.5,521.8L668.9,503.5M676.5,521.8L684.1,503.5M676.5,521.8L694.8,514.2" stroke="#5a5653" stroke-width="0.9" fill="none"/>
<circle cx="267.3" cy="165.8" r="8.7" fill="#5d5955"/><text x="267.3" y="170.4" font-size="13" font-weight="bold" fill="#fff" text-anchor="middle" letter-spacing="0">1</text>
<circle cx="354" cy="165.8" r="8.7" fill="#5d5955"/><text x="354" y="170.4" font-size="13" font-weight="bold" fill="#fff" text-anchor="middle" letter-spacing="0">2</text>
<circle cx="389.5" cy="166.4" r="8.7" fill="#5d5955"/><text x="389.5" y="171" font-size="13" font-weight="bold" fill="#fff" text-anchor="middle" letter-spacing="0">3</text>
<circle cx="511.8" cy="102.9" r="8.7" fill="#5d5955"/><text x="511.8" y="107.5" font-size="13" font-weight="bold" fill="#fff" text-anchor="middle" letter-spacing="0">4</text>
<circle cx="722.8" cy="40.1" r="8.7" fill="#5d5955"/><text x="722.8" y="44.7" font-size="13" font-weight="bold" fill="#fff" text-anchor="middle" letter-spacing="0">5</text>
<circle cx="470.6" cy="237" r="8.7" fill="#5d5955"/><text x="470.6" y="241.6" font-size="13" font-weight="bold" fill="#fff" text-anchor="middle" letter-spacing="0">6</text>
<circle cx="551.6" cy="237.2" r="8.7" fill="#5d5955"/><text x="551.6" y="241.8" font-size="13" font-weight="bold" fill="#fff" text-anchor="middle" letter-spacing="0">8</text>
<circle cx="287.8" cy="339.4" r="8.7" fill="#5d5955"/><text x="287.8" y="344" font-size="13" font-weight="bold" fill="#fff" text-anchor="middle" letter-spacing="0">9</text>
<circle cx="735.9" cy="339.3" r="8.7" fill="#5d5955"/><text x="735.9" y="343.9" font-size="12" font-weight="bold" fill="#fff" text-anchor="middle" letter-spacing="-0.6">10</text>
<circle cx="470.6" cy="451" r="8.7" fill="#5d5955"/><text x="470.6" y="455.6" font-size="12" font-weight="bold" fill="#fff" text-anchor="middle" letter-spacing="-0.6">11</text>
<circle cx="551.6" cy="451" r="8.7" fill="#5d5955"/><text x="551.6" y="455.6" font-size="12" font-weight="bold" fill="#fff" text-anchor="middle" letter-spacing="-0.6">12</text>
<circle cx="261.2" cy="480.7" r="8.7" fill="#5d5955"/><text x="261.2" y="485.3" font-size="12" font-weight="bold" fill="#fff" text-anchor="middle" letter-spacing="-0.6">13</text>
<circle cx="764.9" cy="480.7" r="8.7" fill="#5d5955"/><text x="764.9" y="485.3" font-size="12" font-weight="bold" fill="#fff" text-anchor="middle" letter-spacing="-0.6">13</text>
<circle cx="511.6" cy="590.1" r="8.7" fill="#5d5955"/><text x="511.6" y="594.7" font-size="12" font-weight="bold" fill="#fff" text-anchor="middle" letter-spacing="-0.6">14</text>
<circle cx="512" cy="254.5" r="8.7" fill="#5d5955"/><text x="512" y="259.1" font-size="13" font-weight="bold" fill="#fff" text-anchor="middle" letter-spacing="0">7</text>
<g stroke="#ed1c24" stroke-width="9" stroke-linecap="round" fill="none"><line x1="514" y1="167" x2="418.5" y2="243.5"/><line x1="514" y1="167" x2="607" y2="241.5"/><line x1="418.5" y1="243.5" x2="345" y2="341.4"/><line x1="607" y1="241.5" x2="684" y2="341.6"/><line x1="345" y1="341.4" x2="421.5" y2="447"/><line x1="684" y1="341.6" x2="604" y2="445"/><line x1="421.5" y1="447" x2="511" y2="532"/><line x1="604" y1="445" x2="511" y2="532"/></g>
<g stroke="#ed1c24" stroke-width="8" stroke-linecap="round" fill="none"><line x1="418.5" y1="244" x2="607" y2="245.5"/><line x1="607.5" y1="244" x2="605" y2="445"/><line x1="604" y1="444.5" x2="421.5" y2="447"/><line x1="418.2" y1="243.5" x2="421.8" y2="447"/></g>
<g fill="#ed1c24"><rect x="499.5" y="155" width="28" height="22" rx="5"/><circle cx="350" cy="342" r="10"/><circle cx="686" cy="341.5" r="8"/></g>
<g fill="#ed1c24"><circle cx="512" cy="344" r="11"/></g>
<g stroke="#a349a4" stroke-width="8" stroke-linecap="round"><line x1="405" y1="229" x2="626" y2="466"/><line x1="626" y1="228" x2="401" y2="466"/></g>
<g stroke="#22b14c" stroke-width="8" stroke-linecap="round"><line x1="512" y1="142" x2="512" y2="552"/><line x1="328" y1="342" x2="700" y2="342"/></g>
</svg>
<div class="title">Общий план<br><span style="letter-spacing:0.8px">здания</span></div>
<div class="b" style="top:111.3px">1</div><div class="t" style="top:112.3px"><span style="letter-spacing:-0.467px">Палатка</span></div><div class="b" style="top:135px">2</div><div class="t" style="top:136px"><span style="letter-spacing:-0.317px">Ризница</span></div><div class="b" style="top:158.6px">3</div><div class="t" style="top:159.6px"><span style="letter-spacing:-0.250px">Придел св. Василия Блаженного</span></div><div class="b" style="top:181.8px">4</div><div class="t" style="top:182.8px"><span style="letter-spacing:-0.055px">Церковь Святой Троицы</span></div><div class="b" style="top:205.5px">5</div><div class="t" style="top:206.5px"><span style="letter-spacing:0.122px">Колокольня</span></div><div class="b" style="top:229.2px">6</div><div class="t" style="top:230.2px"><span style="letter-spacing:-0.018px">Церковь Трёх Патриархов</span></div><div class="b" style="top:253.1px">7</div><div class="t" style="top:254.1px"><span style="letter-spacing:0.050px">Церковь Покрова</span><br><span style="letter-spacing:0.005px">Пресвятой Богородицы</span></div><div class="b" style="top:293.1px">8</div><div class="t" style="top:294.1px"><span style="letter-spacing:-0.052px">Церковь Александра Свирского</span></div><div class="b" style="top:316.5px">9</div><div class="t" style="top:317.5px"><span style="letter-spacing:-0.020px">Церковь Киприана и Иустины</span></div><div class="b" style="top:340.2px">10</div><div class="t" style="top:341.2px"><span style="letter-spacing:0.056px">Церковь Николы Великорецкого</span></div><div class="b" style="top:364.1px">11</div><div class="t" style="top:365.1px"><span style="letter-spacing:0.054px">Церковь Григория Армянского</span></div><div class="b" style="top:387.7px">12</div><div class="t" style="top:388.7px"><span style="letter-spacing:-0.196px">Церковь Варлаама Хутынского</span></div><div class="b" style="top:411.2px">13</div><div class="t" style="top:412.2px"><span style="letter-spacing:-0.317px">Крыльца</span></div><div class="b" style="top:434.5px">14</div><div class="t" style="top:435.5px"><span style="letter-spacing:-0.010px">Церковь Входа Господня</span><br><span style="letter-spacing:-0.120px">в Иерусалим</span></div>
</body></html>
